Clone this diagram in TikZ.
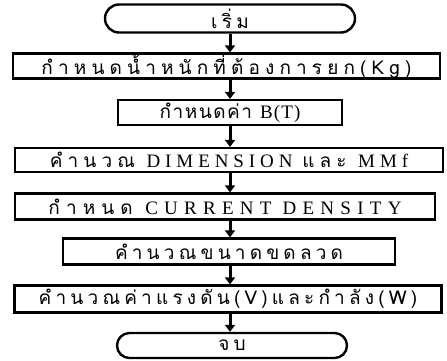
\documentclass[tikz,border=0pt]{standalone}
\usepackage{fontspec}
\setmainfont[LetterSpace=20]{Liberation Serif}
\newfontfamily\thai[Script=Thai,LetterSpace=22]{Loma}
\newfontfamily\thaiwide[Script=Thai,LetterSpace=27]{Loma}
\newfontfamily\thaiwider[Script=Thai,LetterSpace=32]{Loma}
\newfontfamily\thainarrow[Script=Thai,LetterSpace=8]{Loma}
\newfontfamily\latwide[LetterSpace=26]{Liberation Serif}
\newfontfamily\latwider[LetterSpace=33]{Liberation Serif}
\newfontfamily\latnarrow[LetterSpace=6]{Liberation Serif}
\usetikzlibrary{arrows.meta,shapes.misc}
\begin{document}
\begin{tikzpicture}[x=1pt,y=-1pt,
  procbox/.style={draw,line width=2.2pt,rectangle,inner sep=0pt,font=\fontsize{19}{21}\selectfont},
  termbox/.style={draw,line width=2.4pt,rounded rectangle,inner sep=0pt,font=\fontsize{19}{21}\selectfont},
  flowarrow/.style={line width=3pt,-{Triangle[length=7pt,width=10pt]}}]
\useasboundingbox (0,0) rectangle (447,361);
\fill[white] (0,0) rectangle (447,361);
\node[termbox,minimum width=250pt,minimum height=28pt] (s) at (230,18.5) {\thai เริ่ม};
\node[procbox,minimum width=427pt,minimum height=25pt] (b1) at (226.5,66) {\thaiwide กำหนดน้ำหนักที่ต้องการยก(Kg)};
\node[procbox,minimum width=224pt,minimum height=25pt] (b2) at (230,112.5) {\thainarrow กำหนดค่า \latnarrow B(T)};
\node[procbox,minimum width=428pt,minimum height=24pt] (b3) at (229,160) {\thaiwide คำนวณ \latwide DIMENSION \thaiwide และ \latwide MMf};
\node[procbox,minimum width=420pt,minimum height=26pt] (b4) at (225,206.5) {\thaiwider กำหนด \latwider CURRENT DENSITY};
\node[procbox,minimum width=332pt,minimum height=26pt] (b5) at (229,251.5) {\thai คำนวณขนาดขดลวด};
\node[procbox,minimum width=427pt,minimum height=27pt] (b6) at (228,299) {\thai คำนวณค่าแรงดัน(V)และกำลัง(W)};
\node[termbox,minimum width=230pt,minimum height=25pt] (e) at (232,345.5) {\thai จบ};
\coordinate (ax) at (230,0);
\foreach \a/\b in {s/b1,b1/b2,b2/b3,b3/b4,b4/b5,b5/b6,b6/e}
  \draw[flowarrow] (\a.south -| ax) -- (\b.north -| ax);
\end{tikzpicture}
\end{document}
